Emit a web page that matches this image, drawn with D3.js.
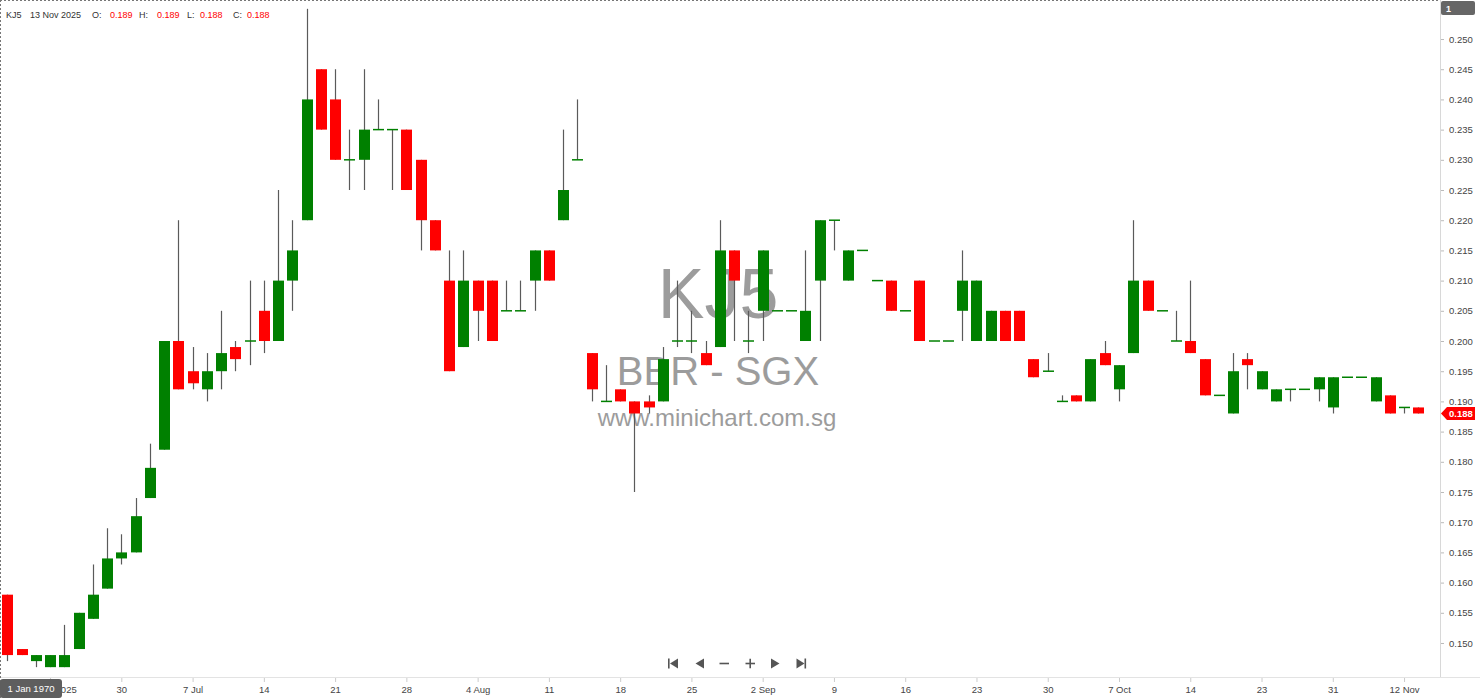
<!DOCTYPE html>
<html><head><meta charset="utf-8">
<script src="https://cdn.jsdelivr.net/npm/d3@7"></script>
<style>html,body{margin:0;padding:0;background:#fff;overflow:hidden}svg{display:block}</style>
</head><body><svg id="c" width="1480" height="699"></svg>
<script>
// ---------------- data ----------------
const symbol = "KJ5";
const exchangeLabel = "BBR - SGX";
const siteLabel = "www.minichart.com.sg";
const lastDate = "13 Nov 2025";
const opens  = [0.158,0.149,0.147,0.146,0.146,0.149,0.154,0.159,0.164,0.165,
                0.174,0.182,0.200,0.195,0.192,0.195,0.199,0.200,0.205,0.200,
                0.210,0.220,0.245,0.240,0.230,0.230,0.235,0.235,0.235,0.230,
                0.220,0.210,0.199,0.210,0.210,0.205,0.205,0.210,0.215,0.220,
                0.230,0.198,0.190,0.192,0.190,0.190,0.190,0.200,0.200,0.198,
                0.199,0.215,0.200,0.205,0.205,0.205,0.200,0.210,0.220,0.210,
                0.215,0.210,0.210,0.205,0.210,0.200,0.200,0.205,0.200,0.200,
                0.205,0.205,0.197,0.195,0.190,0.191,0.190,0.198,0.192,0.198,
                0.210,0.205,0.200,0.200,0.197,0.191,0.188,0.197,0.192,0.190,
                0.192,0.192,0.192,0.189,0.194,0.194,0.190,0.191,0.189,0.189];
const highs  = [0.158,0.149,0.148,0.148,0.153,0.155,0.163,0.169,0.168,0.174,
                0.183,0.200,0.220,0.199,0.198,0.205,0.200,0.210,0.210,0.225,
                0.220,0.255,0.245,0.245,0.235,0.245,0.240,0.235,0.235,0.230,
                0.220,0.215,0.215,0.210,0.210,0.210,0.210,0.215,0.215,0.235,
                0.240,0.198,0.196,0.192,0.190,0.191,0.199,0.210,0.205,0.200,
                0.220,0.215,0.205,0.215,0.205,0.205,0.215,0.220,0.220,0.215,
                0.215,0.210,0.210,0.205,0.210,0.200,0.200,0.215,0.210,0.205,
                0.205,0.205,0.197,0.198,0.191,0.191,0.197,0.200,0.196,0.220,
                0.210,0.205,0.205,0.210,0.197,0.191,0.198,0.198,0.195,0.192,
                0.192,0.192,0.194,0.194,0.194,0.194,0.194,0.191,0.189,0.189];
const lows   = [0.147,0.148,0.146,0.146,0.146,0.149,0.154,0.159,0.163,0.165,
                0.174,0.182,0.192,0.192,0.190,0.192,0.195,0.196,0.198,0.200,
                0.205,0.220,0.235,0.230,0.225,0.225,0.235,0.225,0.225,0.215,
                0.215,0.195,0.199,0.200,0.200,0.205,0.205,0.205,0.210,0.220,
                0.230,0.190,0.190,0.190,0.175,0.188,0.190,0.199,0.198,0.196,
                0.199,0.200,0.198,0.200,0.205,0.205,0.200,0.200,0.215,0.210,
                0.215,0.210,0.205,0.205,0.200,0.200,0.200,0.200,0.200,0.200,
                0.200,0.200,0.194,0.195,0.190,0.190,0.190,0.196,0.190,0.198,
                0.205,0.205,0.200,0.198,0.191,0.191,0.188,0.192,0.192,0.190,
                0.190,0.192,0.190,0.188,0.194,0.194,0.190,0.188,0.188,0.188];
const closes = [0.148,0.148,0.148,0.148,0.148,0.155,0.158,0.164,0.165,0.171,
                0.179,0.200,0.192,0.193,0.195,0.198,0.197,0.200,0.200,0.210,
                0.215,0.240,0.235,0.230,0.230,0.235,0.235,0.235,0.225,0.220,
                0.215,0.195,0.210,0.205,0.200,0.205,0.205,0.215,0.210,0.225,
                0.230,0.192,0.190,0.190,0.188,0.189,0.197,0.200,0.200,0.196,
                0.215,0.210,0.200,0.215,0.205,0.205,0.205,0.220,0.220,0.215,
                0.215,0.210,0.205,0.205,0.200,0.200,0.200,0.210,0.210,0.205,
                0.200,0.200,0.194,0.195,0.190,0.190,0.197,0.196,0.196,0.210,
                0.205,0.205,0.200,0.198,0.191,0.191,0.195,0.196,0.195,0.192,
                0.192,0.192,0.194,0.194,0.194,0.194,0.194,0.188,0.189,0.188];
const xTickIndex  = [3,8,13,18,23,28,33,38,43,48,53,58,63,68,73,78,83,88,93,98];
const xTickLabels = ["23 Jun 2025","30","7 Jul","14","21","28","4 Aug","11","18","25",
                     "2 Sep","9","16","23","30","7 Oct","14","23","31","12 Nov"];
const yTickValues = [0.150,0.155,0.160,0.165,0.170,0.175,0.180,0.185,0.190,0.195,0.200,
                     0.205,0.210,0.215,0.220,0.225,0.230,0.235,0.240,0.245,0.250];

// ---------------- layout ----------------
const W = 1480, H = 699;
const plotRight = 1440, plotBottom = 677;
const FONT = "'Liberation Sans', Arial, sans-serif";
const GREEN = "#008000", RED = "#ff0000", WICK = "#5a5a5a";

const svg = d3.select("#c");
const candles = opens.map((o, i) => ({i, o, h: highs[i], l: lows[i], c: closes[i]}));

const x = d3.scaleLinear().domain([0, candles.length - 1]).range([7.3, 1418.3]);
const y = d3.scaleLinear().domain([0.14437, 0.25646]).range([plotBottom, 0]);
const bodyW = 11;

// watermark
const wm = svg.append("g").attr("fill", "#9c9c9c").attr("font-family", FONT).attr("text-anchor", "middle");
wm.append("text").attr("x", 718).attr("y", 318).attr("font-size", 70).text(symbol);
wm.append("text").attr("x", 718).attr("y", 385).attr("font-size", 40).text(exchangeLabel);
wm.append("text").attr("x", 717).attr("y", 426).attr("font-size", 24).text(siteLabel);

// frame lines
svg.append("line").attr("x1", 0).attr("x2", W).attr("y1", plotBottom + 0.5).attr("y2", plotBottom + 0.5)
  .attr("stroke", "#e3e3e3");
svg.append("line").attr("x1", plotRight + 0.5).attr("x2", plotRight + 0.5).attr("y1", 0).attr("y2", plotBottom)
  .attr("stroke", "#d8d8d8");
svg.append("line").attr("x1", 0).attr("x2", plotRight).attr("y1", 0.5).attr("y2", 0.5)
  .attr("stroke", "#777").attr("stroke-dasharray", "2,2");
svg.append("line").attr("x1", 0.5).attr("x2", 0.5).attr("y1", 0).attr("y2", H)
  .attr("stroke", "#777").attr("stroke-dasharray", "2,2");

// y axis (right)
const yAxis = d3.axisRight(y).tickValues(yTickValues).tickFormat(d3.format(".3f")).tickSize(3).tickPadding(5);
const gy = svg.append("g").attr("transform", `translate(${plotRight + 1},0)`).call(yAxis);
gy.select(".domain").remove();
gy.selectAll(".tick line").attr("stroke", "#bbb");
gy.selectAll(".tick text").attr("fill", "#444").attr("font-family", FONT).attr("font-size", 9.5);

// x axis (bottom)
const xAxis = d3.axisBottom(x).tickValues(xTickIndex)
  .tickFormat((d, k) => xTickLabels[k]).tickSize(4).tickPadding(4);
const gx = svg.append("g").attr("transform", `translate(0,${plotBottom + 1})`).call(xAxis);
gx.select(".domain").remove();
gx.selectAll(".tick line").attr("stroke", "#ccc");
gx.selectAll(".tick text").attr("fill", "#444").attr("font-family", FONT).attr("font-size", 9.5);

// candles
const gc = svg.append("g");
gc.selectAll("line.wick").data(candles.filter(d => d.h > d.l)).join("line").attr("class", "wick")
  .attr("x1", d => Math.round(x(d.i)) + 0.5).attr("x2", d => Math.round(x(d.i)) + 0.5)
  .attr("y1", d => y(d.h)).attr("y2", d => y(d.l))
  .attr("stroke", WICK).attr("stroke-width", 1.2);
gc.selectAll("rect.body").data(candles.filter(d => d.o !== d.c)).join("rect").attr("class", "body")
  .attr("x", d => Math.round(x(d.i)) + 0.5 - bodyW / 2)
  .attr("width", bodyW)
  .attr("y", d => y(Math.max(d.o, d.c)))
  .attr("height", d => Math.max(1, y(Math.min(d.o, d.c)) - y(Math.max(d.o, d.c))))
  .attr("fill", d => d.c > d.o ? GREEN : RED);
gc.selectAll("line.doji").data(candles.filter(d => d.o === d.c)).join("line").attr("class", "doji")
  .attr("x1", d => Math.round(x(d.i)) + 0.5 - bodyW / 2).attr("x2", d => Math.round(x(d.i)) + 0.5 + bodyW / 2)
  .attr("y1", d => y(d.c)).attr("y2", d => y(d.c))
  .attr("stroke", GREEN).attr("stroke-width", 1.5);

// legend
const last = candles[candles.length - 1];
const leg = svg.append("g").attr("font-family", FONT).attr("font-size", 9);
const legItems = [
  [6, symbol, "#333"], [30, lastDate, "#333"],
  [92, "O:", "#333"], [110, d3.format(".3f")(last.o), RED],
  [139, "H:", "#333"], [157, d3.format(".3f")(last.h), RED],
  [187, "L:", "#333"], [200, d3.format(".3f")(last.l), RED],
  [233, "C:", "#333"], [247, d3.format(".3f")(last.c), RED]
];
legItems.forEach(([lx, t, col]) => leg.append("text").attr("x", lx).attr("y", 18).attr("fill", col).text(t));

// last price tag
const ty = y(last.c);
svg.append("path")
  .attr("d", `M${plotRight + 1},${ty} L${plotRight + 7},${ty - 6.5} L${W - 5},${ty - 6.5} L${W - 5},${ty + 6.5} L${plotRight + 7},${ty + 6.5} Z`)
  .attr("fill", RED);
svg.append("text").attr("x", plotRight + 9).attr("y", ty + 3.5).attr("fill", "#fff")
  .attr("font-family", FONT).attr("font-size", 9.5).attr("font-weight", "bold").text(d3.format(".3f")(last.c));

// top-right "1" badge
svg.append("rect").attr("x", plotRight + 1).attr("y", 1).attr("width", 34).attr("height", 14).attr("rx", 2).attr("fill", "#666");
svg.append("text").attr("x", plotRight + 6).attr("y", 11.5).attr("fill", "#fff")
  .attr("font-family", FONT).attr("font-size", 9).attr("font-weight", "bold").text("1");

// navigation icons
const nav = svg.append("g").attr("fill", "#555").attr("stroke", "#555");
const ny = 663.5;
nav.append("rect").attr("x", 668).attr("y", ny - 5).attr("width", 1.6).attr("height", 10).attr("stroke", "none");
nav.append("path").attr("d", `M678,${ny - 5} L678,${ny + 5} L670,${ny} Z`).attr("stroke", "none");
nav.append("path").attr("d", `M704,${ny - 5} L704,${ny + 5} L695.5,${ny} Z`).attr("stroke", "none");
nav.append("line").attr("x1", 719.5).attr("x2", 729).attr("y1", ny).attr("y2", ny).attr("stroke-width", 1.6);
nav.append("line").attr("x1", 745.5).attr("x2", 755).attr("y1", ny).attr("y2", ny).attr("stroke-width", 1.6);
nav.append("line").attr("x1", 750.2).attr("x2", 750.2).attr("y1", ny - 4.8).attr("y2", ny + 4.8).attr("stroke-width", 1.6);
nav.append("path").attr("d", `M771,${ny - 5} L771,${ny + 5} L779.5,${ny} Z`).attr("stroke", "none");
nav.append("path").attr("d", `M796.5,${ny - 5} L796.5,${ny + 5} L804.5,${ny} Z`).attr("stroke", "none");
nav.append("rect").attr("x", 804.5).attr("y", ny - 5).attr("width", 1.6).attr("height", 10).attr("stroke", "none");

// crosshair date badge at bottom-left
svg.append("rect").attr("x", 0).attr("y", 679).attr("width", 62).attr("height", 19).attr("rx", 3).attr("fill", "#5e5e5e");
svg.append("text").attr("x", 31).attr("y", 692).attr("text-anchor", "middle").attr("fill", "#fff")
  .attr("font-family", FONT).attr("font-size", 9.5).text("1 Jan 1970");
</script>
</body></html>
